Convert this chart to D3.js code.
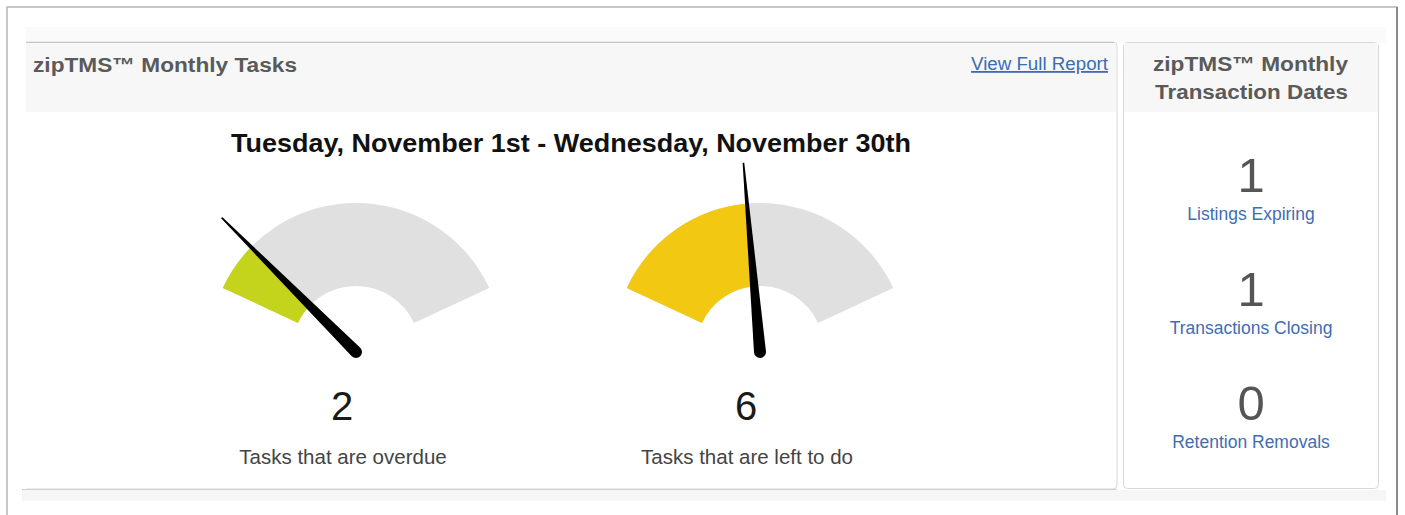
<!DOCTYPE html>
<html>
<head>
<meta charset="utf-8">
<script src="https://cdn.jsdelivr.net/npm/d3@7"></script>
<style>
  body { margin: 0; background: #fff; }
  svg text { font-family: "Liberation Sans", Arimo, Arial, sans-serif; }
</style>
</head>
<body>
<div id="chart"></div>
<script>
var width = 1405;
var height = 515;

// gauge data
var gaugeLabels = ["Tasks that are overdue", "Tasks that are left to do"];
var gaugeValues = [2, 6];
var gaugeMax = 13;
var gaugeColors = ["#c4d41c", "#f2c812"];

// side panel stats
var statLabels = ["Listings Expiring", "Transactions Closing", "Retention Removals"];
var statValues = [1, 1, 0];

var svg = d3.select("#chart")
  .append("svg")
  .attr("width", width)
  .attr("height", height);

// outer frame
svg.append("rect")
  .attr("x", 7).attr("y", 7)
  .attr("width", 1390).attr("height", 520)
  .attr("fill", "#fff")
  .attr("stroke", "#b5b5b5")
  .attr("stroke-width", 1.5);
svg.append("line")
  .attr("x1", 1397).attr("x2", 1397)
  .attr("y1", 7).attr("y2", 515)
  .attr("stroke", "#8a8a8a").attr("stroke-width", 2);

// faint band above panels
svg.append("rect")
  .attr("x", 26).attr("y", 27)
  .attr("width", 1360).attr("height", 16)
  .attr("fill", "#fafafa");

// left panel
svg.append("rect")
  .attr("x", 10).attr("y", 42)
  .attr("width", 1107).attr("height", 447)
  .attr("rx", 4)
  .attr("fill", "#fff")
  .attr("stroke", "#d8d8d8");
svg.append("rect")
  .attr("x", 26).attr("y", 43)
  .attr("width", 1090).attr("height", 69)
  .attr("fill", "#f7f7f7");
svg.append("line")
  .attr("x1", 26).attr("x2", 1114)
  .attr("y1", 42.5).attr("y2", 42.5)
  .attr("stroke", "#c8c8c8");

// right panel
svg.append("rect")
  .attr("x", 1123.5).attr("y", 42.5)
  .attr("width", 255).attr("height", 446)
  .attr("rx", 4)
  .attr("fill", "#fff")
  .attr("stroke", "#d8d8d8");
svg.append("rect")
  .attr("x", 1124).attr("y", 43)
  .attr("width", 254).attr("height", 69)
  .attr("fill", "#f7f7f7");

// cover left edge of left panel (cropped in screenshot)
svg.append("rect")
  .attr("x", 8).attr("y", 30)
  .attr("width", 18).attr("height", 485)
  .attr("fill", "#fff");

// strip below panels
svg.append("rect")
  .attr("x", 22).attr("y", 490)
  .attr("width", 1364).attr("height", 11)
  .attr("fill", "#f6f6f6");
svg.append("line")
  .attr("x1", 22).attr("x2", 1117)
  .attr("y1", 489.5).attr("y2", 489.5)
  .attr("stroke", "#d0d0d0");

// headers
svg.append("text")
  .attr("x", 33).attr("y", 72)
  .attr("font-size", 20).attr("font-weight", "bold")
  .attr("fill", "#5a5a5a")
  .attr("textLength", 264)
  .attr("lengthAdjust", "spacingAndGlyphs")
  .text("zipTMS\u2122 Monthly Tasks");

svg.append("text")
  .attr("x", 971).attr("y", 70)
  .attr("font-size", 18)
  .attr("fill", "#3b6cb4")
  .attr("text-decoration", "underline")
  .attr("textLength", 137)
  .attr("lengthAdjust", "spacingAndGlyphs")
  .text("View Full Report");

svg.append("text")
  .attr("x", 1153).attr("y", 71)
  .attr("font-size", 20).attr("font-weight", "bold")
  .attr("fill", "#5a5a5a")
  .attr("textLength", 195)
  .attr("lengthAdjust", "spacingAndGlyphs")
  .text("zipTMS\u2122 Monthly");
svg.append("text")
  .attr("x", 1155).attr("y", 99)
  .attr("font-size", 20).attr("font-weight", "bold")
  .attr("fill", "#5a5a5a")
  .attr("textLength", 193)
  .attr("lengthAdjust", "spacingAndGlyphs")
  .text("Transaction Dates");

svg.append("text")
  .attr("x", 231).attr("y", 152)
  .attr("font-size", 26).attr("font-weight", "bold")
  .attr("fill", "#111")
  .attr("textLength", 680)
  .attr("lengthAdjust", "spacingAndGlyphs")
  .text("Tuesday, November 1st - Wednesday, November 30th");

// gauges
var angle = d3.scaleLinear()
  .domain([0, gaugeMax])
  .range([-65 * Math.PI / 180, 65 * Math.PI / 180]);

var arc = d3.arc()
  .innerRadius(64)
  .outerRadius(147);

var gaugeX = d3.scalePoint()
  .domain(gaugeLabels)
  .range([356, 760]);

var gauges = svg.selectAll(".gauge")
  .data(gaugeLabels)
  .enter()
  .append("g")
    .attr("class", "gauge")
    .attr("transform", function(d) { return "translate(" + gaugeX(d) + ",350)"; });

gauges.append("path")
  .attr("d", arc({startAngle: angle(0), endAngle: angle(gaugeMax)}))
  .attr("fill", "#e0e0e0");

gauges.append("path")
  .attr("d", function(d, i) { return arc({startAngle: angle(0), endAngle: angle(gaugeValues[i])}); })
  .attr("fill", function(d, i) { return gaugeColors[i]; });

gauges.append("path")
  .attr("d", "M-6,0 L-0.8,-190 L0.8,-190 L6,0 A6,6 0 0,1 -6,0 Z")
  .attr("transform", function(d, i) { return "translate(0,2) rotate(" + (angle(gaugeValues[i]) * 180 / Math.PI) + ")"; })
  .attr("fill", "#000");

gauges.append("text")
  .attr("x", -14).attr("y", 70)
  .attr("text-anchor", "middle")
  .attr("font-size", 40)
  .attr("fill", "#1a1a1a")
  .text(function(d, i) { return gaugeValues[i]; });

gauges.append("text")
  .attr("x", -13).attr("y", 114)
  .attr("text-anchor", "middle")
  .attr("font-size", 20.5)
  .attr("fill", "#444")
  .text(function(d) { return d; });

// side stats
var statY = d3.scalePoint()
  .domain(statLabels)
  .range([192, 420]);

var stats = svg.selectAll(".stat")
  .data(statLabels)
  .enter()
  .append("g")
    .attr("class", "stat")
    .attr("transform", function(d) { return "translate(1251," + statY(d) + ")"; });

stats.append("text")
  .attr("text-anchor", "middle")
  .attr("font-size", 49)
  .attr("fill", "#555")
  .text(function(d, i) { return statValues[i]; });

stats.append("text")
  .attr("y", 28)
  .attr("text-anchor", "middle")
  .attr("font-size", 17.5)
  .attr("fill", "#3f6db3")
  .text(function(d) { return d; });
</script>
</body>
</html>
